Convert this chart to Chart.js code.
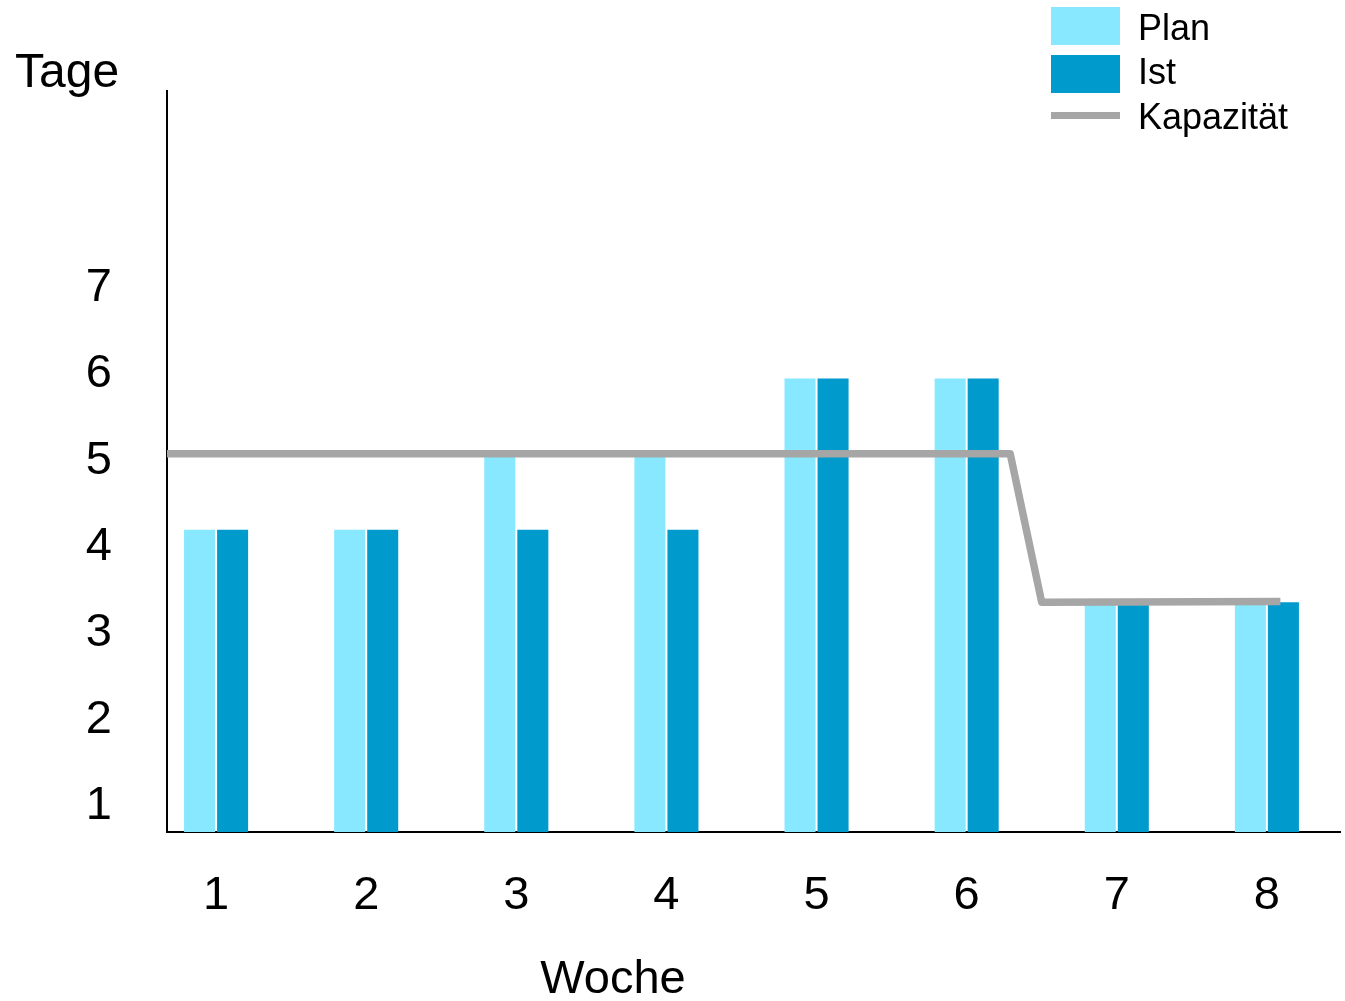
<!DOCTYPE html>
<html>
  <head>
    <meta charset="utf-8">
    <title>Plan / Ist / Kapazität</title>
    <style>
      body { margin: 0; background: #fff; }
    </style>
    <script src="https://cdn.jsdelivr.net/npm/chart.js"></script>
  </head>
  <body>
    <canvas id="myChart" width="1345" height="1001"></canvas>
    <script>
      const weeks = [1, 2, 3, 4, 5, 6, 7, 8];
      const plan = [4.2, 4.2, 5.05, 5.05, 5.95, 5.95, 3.36, 3.36];
      const ist = [4.2, 4.2, 4.2, 4.2, 5.95, 5.95, 3.36, 3.36];
      // capacity line, x in weeks
      const capWeeks = [0.67, 6.29, 6.5, 8.09];
      const capDays = [5.08, 5.08, 3.36, 3.37];
      const yTicks = [1, 2, 3, 4, 5, 6, 7];

      const font = "'Liberation Sans', Arial, sans-serif";

      // axis titles + legend drawn by hand, placed like the original
      const extras = {
        id: 'extras',
        afterDraw(chart) {
          const ctx = chart.ctx;
          ctx.save();
          ctx.fillStyle = '#000';
          ctx.textBaseline = 'alphabetic';
          ctx.font = '48px ' + font;
          ctx.textAlign = 'left';
          ctx.fillText('Tage', 15, 87);
          ctx.font = '47px ' + font;
          ctx.textAlign = 'center';
          ctx.fillText('Woche', 613, 993);

          ctx.font = '36px ' + font;
          ctx.textAlign = 'left';
          const ds = chart.data.datasets;
          ds.forEach((d, n) => {
            const top = 7 + n * 48;
            if (d.type === 'line') {
              ctx.fillStyle = d.borderColor;
              ctx.fillRect(1051, 112, 69, 7);
            } else {
              ctx.fillStyle = d.backgroundColor;
              ctx.fillRect(1051, top, 69, 38);
            }
            ctx.fillStyle = '#000';
            ctx.fillText(d.label, 1138, [40, 84, 129][n]);
          });
          ctx.restore();
        }
      };

      const ctx = document.getElementById('myChart').getContext('2d');
      new Chart(ctx, {
        type: 'bar',
        data: {
          datasets: [
            {
              label: 'Plan',
              data: weeks.map((w, i) => ({ x: w, y: plan[i] })),
              backgroundColor: '#87e8ff',
              categoryPercentage: 0.44,
              barPercentage: 0.94,
              order: 1
            },
            {
              label: 'Ist',
              data: weeks.map((w, i) => ({ x: w, y: ist[i] })),
              backgroundColor: '#009acd',
              categoryPercentage: 0.44,
              barPercentage: 0.94,
              order: 1
            },
            {
              type: 'line',
              label: 'Kapazität',
              data: capWeeks.map((w, i) => ({ x: w, y: capDays[i] })),
              borderColor: '#a6a6a6',
              borderWidth: 7.5,
              borderCapStyle: 'butt',
              borderJoinStyle: 'round',
              pointRadius: 0,
              tension: 0,
              fill: false,
              order: 0
            }
          ]
        },
        options: {
          responsive: false,
          animation: false,
          layout: { padding: { top: 91, right: 5, left: 0, bottom: 0 } },
          plugins: {
            legend: { display: false },
            tooltip: { enabled: false }
          },
          scales: {
            x: {
              type: 'linear',
              min: 0.673,
              max: 8.487,
              offset: false,
              grid: { display: false, offset: false },
              border: { display: true, color: '#000', width: 2 },
              afterFit: (scale) => { scale.height = 169; },
              afterBuildTicks: (scale) => {
                scale.ticks = weeks.map(v => ({ value: v }));
              },
              ticks: {
                color: '#000',
                padding: 28,
                maxRotation: 0,
                font: { family: font, size: 47 }
              }
            },
            y: {
              min: 0.7,
              max: 9.28,
              grid: { display: false },
              border: { display: true, color: '#000', width: 2 },
              afterFit: (scale) => { scale.width = 167; },
              afterBuildTicks: (scale) => {
                scale.ticks = yTicks.map(v => ({ value: v }));
              },
              ticks: {
                color: '#000',
                padding: 47,
                font: { family: font, size: 47 }
              }
            }
          }
        },
        plugins: [extras]
      });
    </script>
  </body>
</html>
